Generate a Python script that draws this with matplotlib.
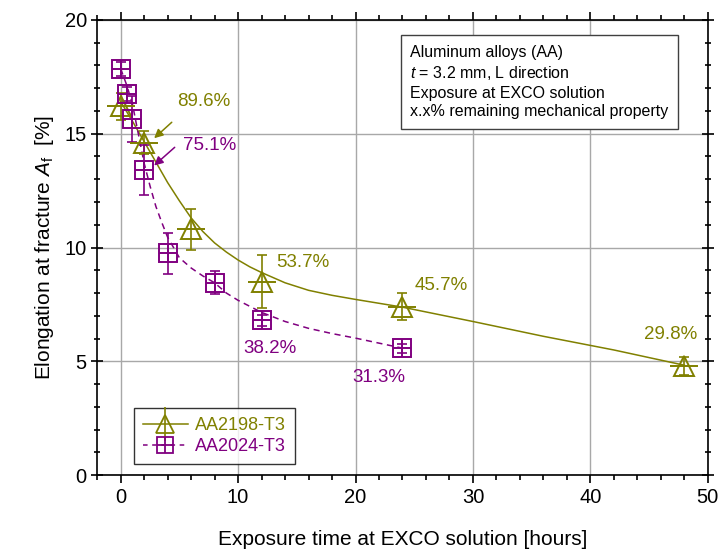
import matplotlib
matplotlib.use("Agg")
import matplotlib.pyplot as plt
from matplotlib.lines import Line2D
from matplotlib.legend_handler import HandlerTuple
from matplotlib.ticker import MultipleLocator

plt.rcParams['font.family'] = ['Liberation Sans', 'DejaVu Sans']
plt.rcParams['mathtext.fontset'] = 'custom'
plt.rcParams['mathtext.rm'] = 'Liberation Sans'
plt.rcParams['mathtext.it'] = 'Liberation Sans:italic'

OLIVE = '#808000'
PURPLE = '#800080'

# AA2198-T3 measured points
t_2198 = [0, 2, 6, 12, 24, 48]
e_2198 = [16.2, 14.6, 10.8, 8.5, 7.4, 4.8]
err_2198 = [0.6, 0.5, 0.9, 1.15, 0.6, 0.4]
# AA2198-T3 trend curve
fit_t_2198 = [0, 1, 2, 3, 4, 5, 6, 7, 8, 9, 10, 11, 12, 14, 16, 18, 20, 22,
              24, 30, 36, 42, 48]
fit_e_2198 = [16.4, 15.55, 14.65, 13.75, 12.85, 12.05, 11.3, 10.7, 10.2, 9.8,
              9.45, 9.15, 8.9, 8.45, 8.12, 7.9, 7.72, 7.55, 7.38, 6.75, 6.1,
              5.5, 4.83]

# AA2024-T3 measured points
t_2024 = [0, 0.5, 1, 2, 4, 8, 12, 24]
e_2024 = [17.85, 16.75, 15.65, 13.4, 9.75, 8.45, 6.8, 5.58]
err_2024 = [0.3, 0.3, 1.0, 1.1, 0.9, 0.5, 0.25, 0.2]
# AA2024-T3 trend curve
fit_t_2024 = [0, 0.5, 1, 1.5, 2, 2.5, 3, 3.5, 4, 5, 6, 7, 8, 9, 10, 12, 14,
              16, 18, 20, 22, 24]
fit_e_2024 = [17.85, 17.15, 16.3, 15.0, 13.7, 12.7, 11.8, 11.1, 10.45, 9.55,
              9.1, 8.75, 8.45, 8.0, 7.68, 7.15, 6.75, 6.45, 6.22, 6.02, 5.8,
              5.58]

# remaining property labels: (text, x, y, colour)
pct_labels = [('89.6%', 7.1, 16.4, OLIVE), ('53.7%', 15.5, 9.35, OLIVE),
              ('45.7%', 27.3, 8.35, OLIVE), ('29.8%', 46.8, 6.2, OLIVE),
              ('75.1%', 7.6, 14.5, PURPLE), ('38.2%', 12.7, 5.55, PURPLE),
              ('31.3%', 22.0, 4.3, PURPLE)]


def main():
    fig = plt.figure(figsize=(7.2, 5.5), dpi=100)
    ax = fig.add_axes([0.135, 0.136, 0.848, 0.828])

    ax.grid(True, color='#a8a8a8', linewidth=1.0, zorder=0)

    # trend lines
    ax.plot(fit_t_2198, fit_e_2198, color=OLIVE, lw=1.1, zorder=2)
    ax.plot(fit_t_2024, fit_e_2024, color=PURPLE, lw=1.1, ls=(0, (4, 3)), zorder=2)

    # error bars
    ax.errorbar(t_2198, e_2198, yerr=err_2198, fmt='none', ecolor=OLIVE,
                elinewidth=1.2, capsize=3.6, capthick=1.2, zorder=3)
    ax.errorbar(t_2024, e_2024, yerr=err_2024, fmt='none', ecolor=PURPLE,
                elinewidth=1.2, capsize=3.6, capthick=1.2, zorder=3)

    # markers
    ax.plot(t_2198, e_2198, ls='none', marker='^', ms=15, mfc='none',
            mec=OLIVE, mew=1.4, zorder=4)
    ax.plot(t_2198, e_2198, ls='none', marker='_', ms=20, mec=OLIVE,
            mew=1.4, zorder=4)
    ax.plot(t_2024, e_2024, ls='none', marker='s', ms=13, mfc='none',
            mec=PURPLE, mew=1.4, zorder=4)
    ax.plot(t_2024, e_2024, ls='none', marker='+', ms=13, mec=PURPLE,
            mew=1.4, zorder=4)

    for txt, x, y, c in pct_labels:
        ax.text(x, y, txt, color=c, fontsize=13.5, ha='center', va='center', zorder=5)

    ax.annotate('', xy=(2.85, 14.8), xytext=(4.35, 15.5),
                arrowprops=dict(arrowstyle='-|>', color=OLIVE, lw=1.1,
                                mutation_scale=13, shrinkA=0, shrinkB=0))
    ax.annotate('', xy=(2.85, 13.6), xytext=(4.6, 14.4),
                arrowprops=dict(arrowstyle='-|>', color=PURPLE, lw=1.1,
                                mutation_scale=13, shrinkA=0, shrinkB=0))

    ax.set_xlim(-2, 50)
    ax.set_ylim(0, 20)
    ax.xaxis.set_major_locator(MultipleLocator(10))
    ax.xaxis.set_minor_locator(MultipleLocator(2))
    ax.yaxis.set_major_locator(MultipleLocator(5))
    ax.yaxis.set_minor_locator(MultipleLocator(1))
    for s in ax.spines.values():
        s.set_linewidth(1.2)
    ax.tick_params(which='both', top=True, right=True, width=1.2,
                   labelsize=14.5, direction='out')
    ax.tick_params(axis='y', which='both', direction='inout')
    ax.tick_params(which='major', length=6)
    ax.tick_params(which='minor', length=3.5)
    ax.tick_params(axis='y', which='major', length=8)
    ax.tick_params(axis='y', which='minor', length=5)

    ax.set_xlabel('Exposure time at EXCO solution [hours]', fontsize=15, labelpad=16)
    ax.set_ylabel(r'Elongation at fracture $A_{\mathrm{f}}$  [%]', fontsize=15, labelpad=6)

    ax.text(0.513, 0.945,
            'Aluminum alloys (AA)\n$t$ = 3.2 mm, L direction\n'
            'Exposure at EXCO solution\nx.x% remaining mechanical property',
            transform=ax.transAxes, fontsize=11.5, va='top', ha='left',
            linespacing=1.3, zorder=6,
            bbox=dict(boxstyle='square,pad=0.6', fc='white', ec='#404040', lw=1.0))

    h1 = (Line2D([], [], color=OLIVE, lw=1.1, marker='^', ms=13, mfc='none',
                 mec=OLIVE, mew=1.3),
          Line2D([], [], ls='none', marker='|', ms=24, mec=OLIVE, mew=1.2))
    h2 = (Line2D([], [], color=PURPLE, lw=1.1, ls=(0, (3, 3)), marker='s', ms=11,
                 mfc='none', mec=PURPLE, mew=1.3),
          Line2D([], [], ls='none', marker='+', ms=11, mec=PURPLE, mew=1.3))
    leg = ax.legend([h1, h2], ['AA2198-T3', 'AA2024-T3'], loc='lower left',
                    bbox_to_anchor=(0.045, 0.005), fontsize=13, frameon=True,
                    fancybox=False, edgecolor='black', handlelength=2.5,
                    handler_map={tuple: HandlerTuple(ndivide=1)},
                    borderpad=0.5, labelspacing=0.2, handletextpad=0.4)
    leg.get_frame().set_linewidth(1.0)
    for t, c in zip(leg.get_texts(), [OLIVE, PURPLE]):
        t.set_color(c)

    fig.savefig('out.png', dpi=100)


if __name__ == "__main__":
    main()
